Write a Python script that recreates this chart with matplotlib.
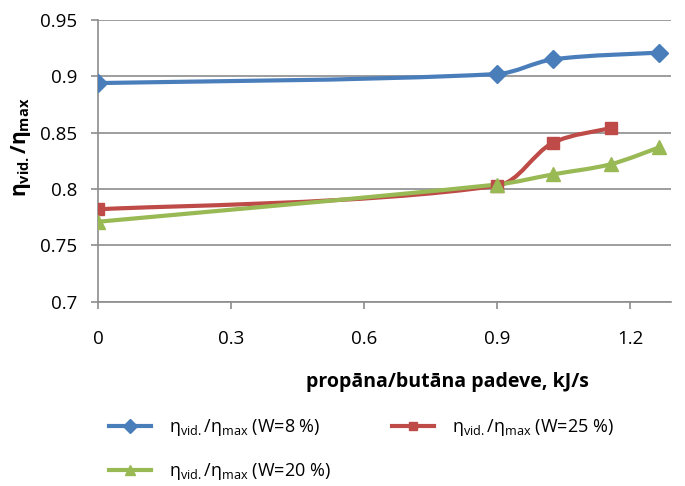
import numpy as np
import matplotlib
matplotlib.use('Agg')
import matplotlib.pyplot as plt
from matplotlib.path import Path
from matplotlib.patches import PathPatch
from matplotlib.lines import Line2D

plt.rcParams['font.family'] = ['Open Sans', 'DejaVu Sans']
plt.rcParams['mathtext.fontset'] = 'custom'
plt.rcParams['mathtext.rm'] = 'Open Sans'
plt.rcParams['mathtext.it'] = 'Open Sans'
plt.rcParams['mathtext.bf'] = 'Open Sans:bold'

# data
x_w8 = [0.0, 0.9, 1.026, 1.266]
y_w8 = [0.894, 0.902, 0.915, 0.921]
x_w25 = [0.0, 0.9, 1.026, 1.156]
y_w25 = [0.782, 0.803, 0.841, 0.854]
x_w20 = [0.0, 0.9, 1.026, 1.156, 1.266]
y_w20 = [0.771, 0.804, 0.813, 0.822, 0.837]

labels = [r'$\mathregular{\eta_{vid.}/\eta_{max}}$ (W=8 %)',
          r'$\mathregular{\eta_{vid.}/\eta_{max}}$ (W=25 %)',
          r'$\mathregular{\eta_{vid.}/\eta_{max}}$ (W=20 %)']

BLUE, RED, GREEN = '#4A7EBB', '#BE4B48', '#98B954'
GRID = '#8C8C8C'


def smooth_path(ax, xs, ys):
    # smoothed line like Excel: chord-length Catmull-Rom, built in pixel space
    p = ax.transData.transform(np.column_stack([xs, ys]))
    n = len(p)
    L = np.hypot(*np.diff(p, axis=0).T)
    m = np.zeros_like(p)
    m[0] = (p[1] - p[0]) / (2 * L[0])
    m[-1] = (p[-1] - p[-2]) / (2 * L[-1])
    for i in range(1, n - 1):
        m[i] = (p[i + 1] - p[i - 1]) / (L[i - 1] + L[i])
    verts = [p[0]]
    codes = [Path.MOVETO]
    for i in range(n - 1):
        verts += [p[i] + m[i] * L[i] / 3, p[i + 1] - m[i + 1] * L[i] / 3, p[i + 1]]
        codes += [Path.CURVE4] * 3
    verts = ax.transData.inverted().transform(np.array(verts))
    return Path(verts, codes)


fig = plt.figure(figsize=(6.85, 4.86), dpi=100)
ax = fig.add_axes([0.143, 0.379, 0.837, 0.580])
ax.set_xlim(0, 1.293)
ax.set_ylim(0.7, 0.95)

series = [(x_w8, y_w8, BLUE, 'D', 9), (x_w25, y_w25, RED, 's', 8.5),
          (x_w20, y_w20, GREEN, '^', 10)]
handles = []
for xs, ys, c, mk, ms in series:
    ax.add_patch(PathPatch(smooth_path(ax, xs, ys), fill=False, edgecolor=c,
                           lw=3, capstyle='round', zorder=3))
    ax.plot(xs, ys, ls='none', marker=mk, ms=ms, color=c, zorder=4)
    handles.append(Line2D([], [], color=c, lw=3, marker=mk, ms=ms * 0.75))

ax.set_xticks([0, 0.3, 0.6, 0.9, 1.2])
ax.set_xticklabels(['0', '0.3', '0.6', '0.9', '1.2'])
ax.set_yticks([0.7, 0.75, 0.8, 0.85, 0.9, 0.95])
ax.set_yticklabels(['0.7', '0.75', '0.8', '0.85', '0.9', '0.95'])
ax.grid(axis='y', color=GRID, lw=1.2)
ax.set_axisbelow(True)
for s in ['top', 'right']:
    ax.spines[s].set_visible(False)
for s in ['left', 'bottom']:
    ax.spines[s].set_color(GRID)
    ax.spines[s].set_linewidth(1.2)
ax.tick_params(axis='both', direction='out', color=GRID, width=1.2,
               length=5, labelsize=13.5)
ax.tick_params(axis='x', pad=15)
ax.tick_params(axis='y', pad=10)

ax.set_xlabel('propāna/butāna padeve, kJ/s', fontsize=14, fontweight='bold')
ax.xaxis.set_label_coords(0.609, -0.25)
ax.set_ylabel(r'$\mathbf{\eta_{vid.}/\eta_{max}}$', fontsize=15)
ax.yaxis.set_label_coords(-0.113, 0.55)

fig.legend([handles[0], handles[2], handles[1]], [labels[0], labels[2], labels[1]],
           loc='upper left', bbox_to_anchor=(0.149, 0.157), ncol=2,
           frameon=False, fontsize=13, handlelength=2.3, handletextpad=1.0,
           columnspacing=3.4, labelspacing=1.3, borderaxespad=0)

fig.savefig('out.png', dpi=100)
